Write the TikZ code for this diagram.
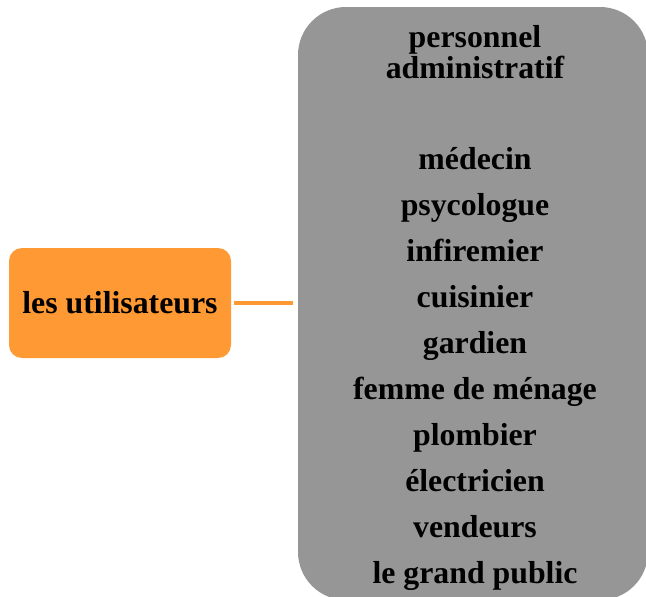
\documentclass[tikz,border=0pt]{standalone}
\usepackage{fontspec}
\setmainfont{Liberation Serif}
\definecolor{orangefill}{RGB}{255,153,51}
\definecolor{grayfill}{RGB}{150,150,150}
\begin{document}
\begin{tikzpicture}[x=1pt,y=-1pt,
  graybox/.style={fill=grayfill, draw=none, rounded corners=48pt, inner sep=0pt},
  userbox/.style={fill=orangefill, draw=none, rounded corners=13pt, inner sep=0pt,
    minimum width=222pt, minimum height=110pt, font=\fontsize{31.8}{32}\selectfont\bfseries},
  item/.style={anchor=base, inner sep=0pt, font=\fontsize{31.8}{32}\selectfont\bfseries},
  conn/.style={draw=orangefill, line width=3.5pt, shorten <=3pt, shorten >=5pt}]
\useasboundingbox (0,0) rectangle (646,597);
\node[graybox, minimum width=350pt, minimum height=593pt] (box) at (473,303.5) {};
\node[userbox] (user) at (120,303) {les utilisateurs};
\draw[conn] (user.east) -- (user.east -| box.west);
\node[item] (t1) at (475,47) {personnel};
\node[item] (t2) at (475,78) {administratif};
\node[item] (t3) at (475,169) {médecin};
\node[item] (t4) at (475,215) {psycologue};
\node[item] (t5) at (475,261) {infiremier};
\node[item] (t6) at (475,307) {cuisinier};
\node[item] (t7) at (475,353) {gardien};
\node[item] (t8) at (475,399) {femme de ménage};
\node[item] (t9) at (475,445) {plombier};
\node[item] (t10) at (475,491) {électricien};
\node[item] (t11) at (475,537) {vendeurs};
\node[item] (t12) at (475,583) {le grand public};
\end{tikzpicture}
\end{document}
